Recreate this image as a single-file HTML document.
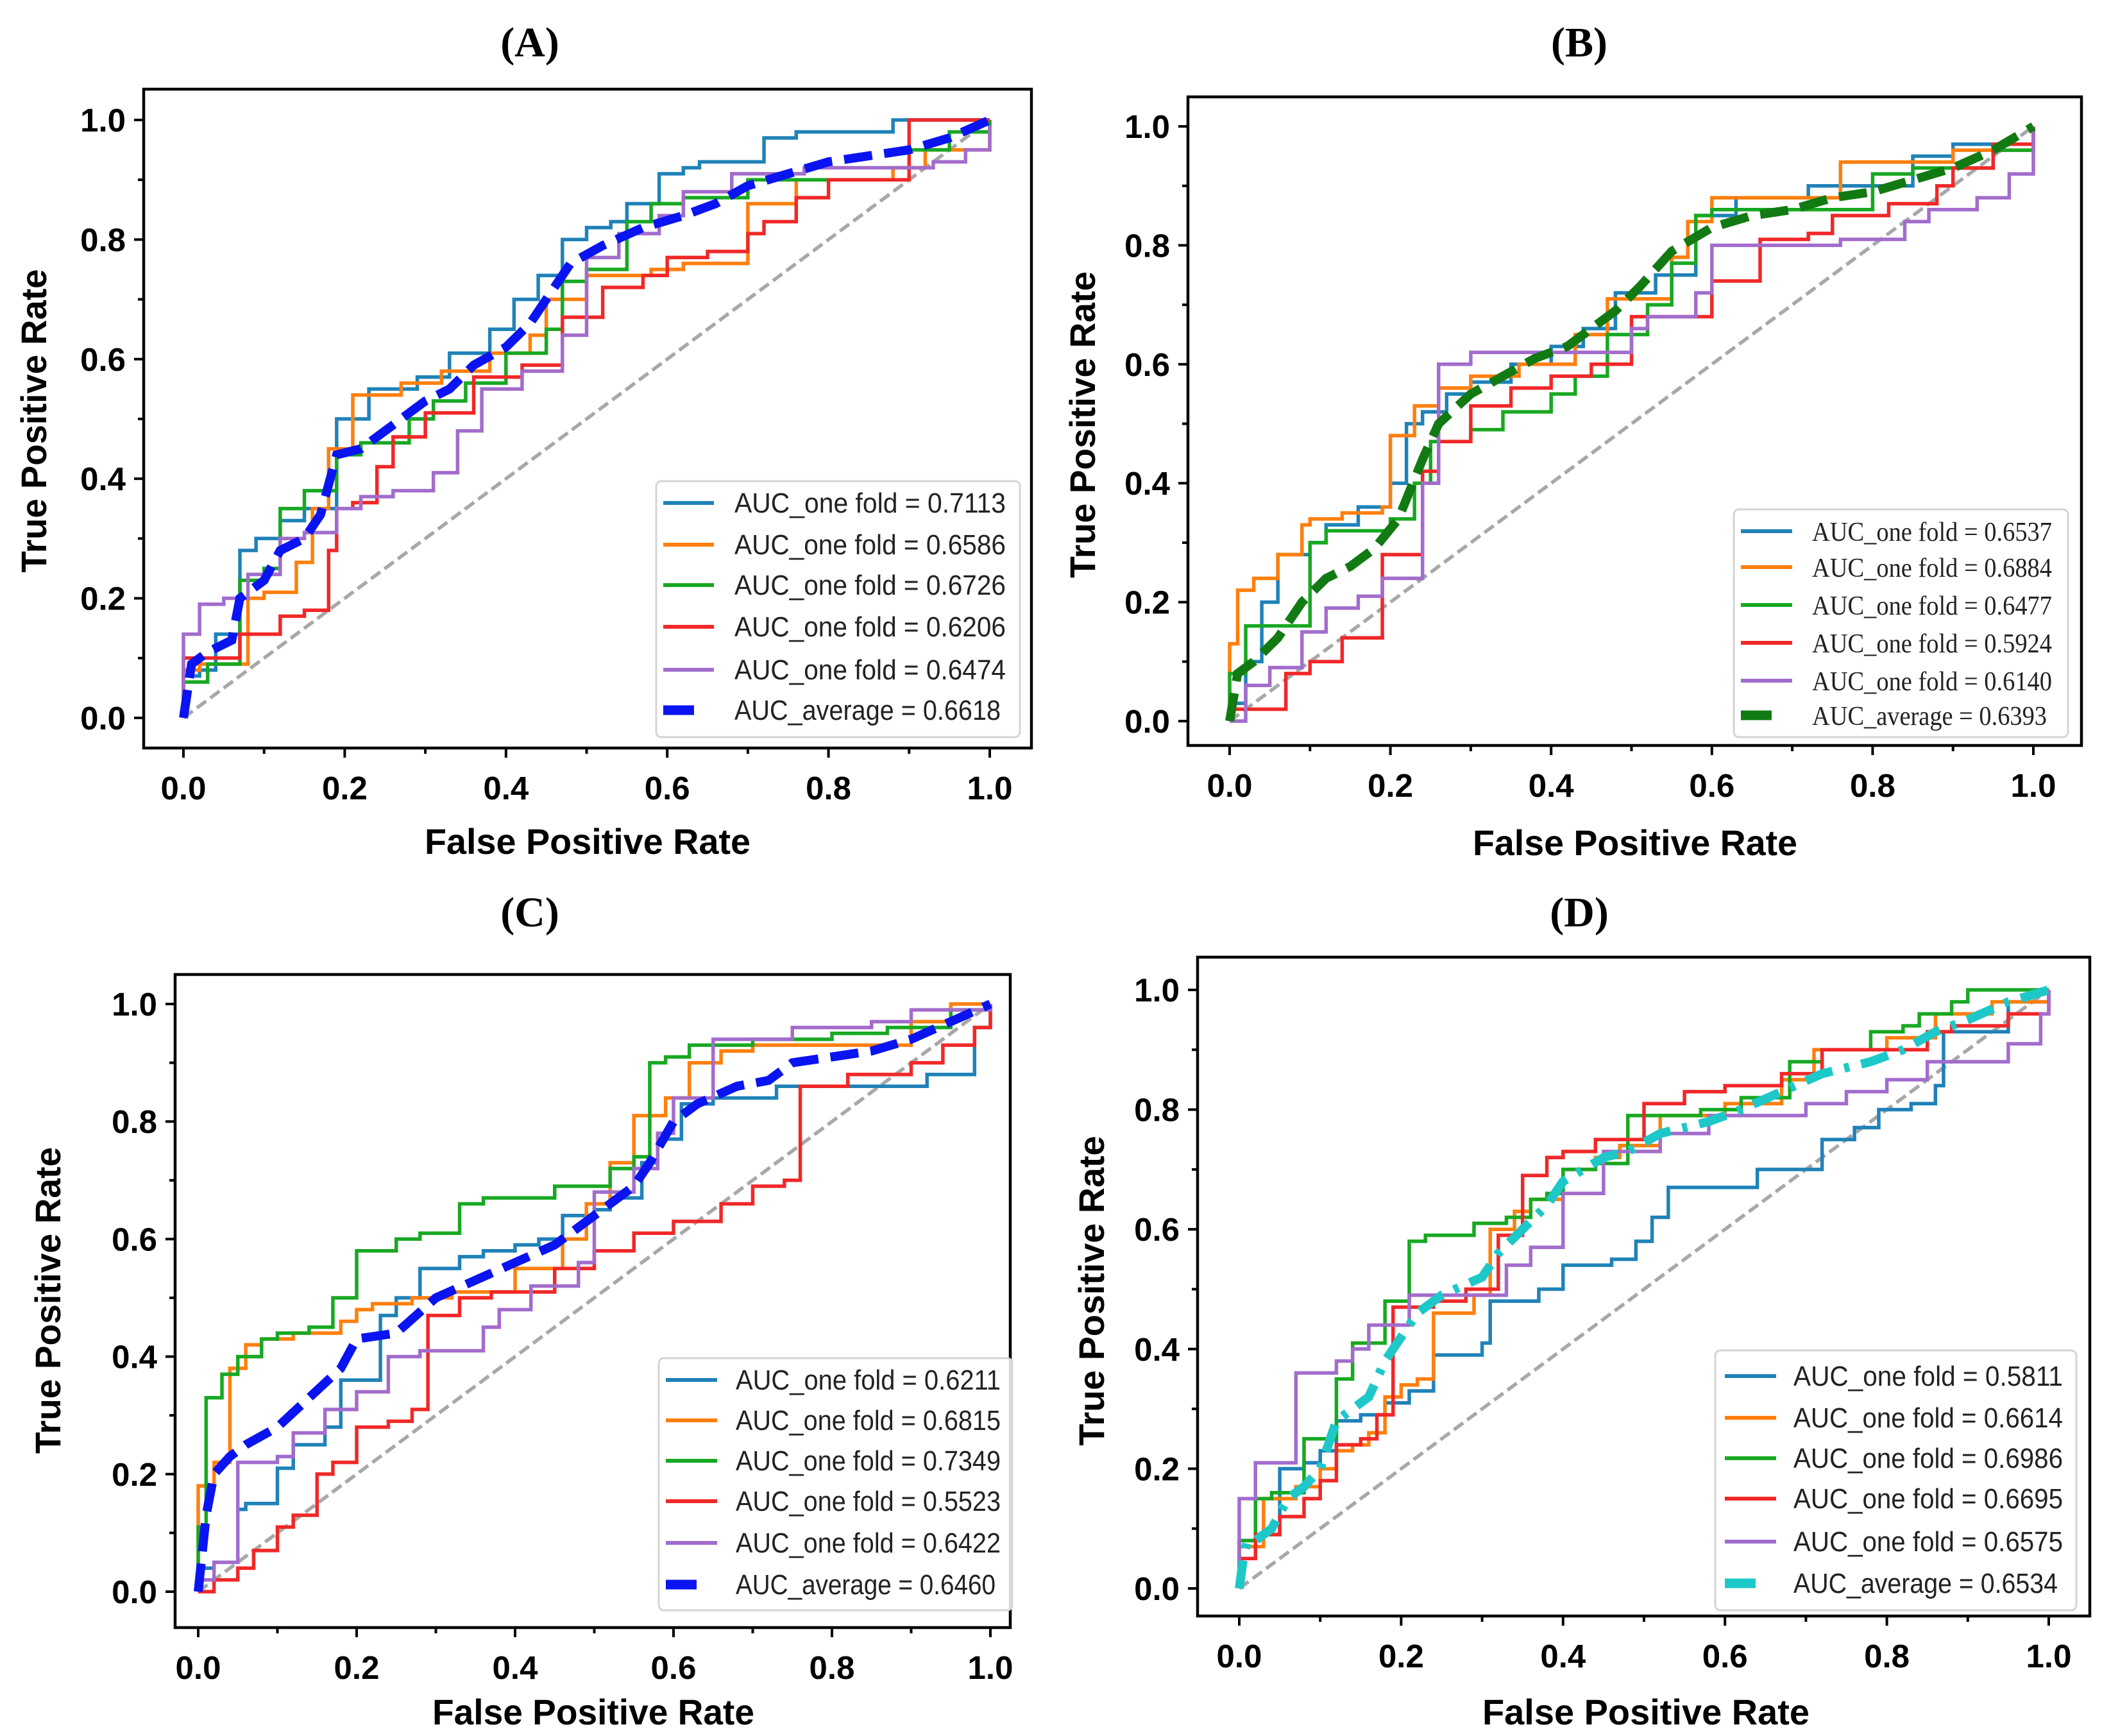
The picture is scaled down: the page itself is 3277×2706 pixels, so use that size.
<!DOCTYPE html>
<html><head><meta charset="utf-8">
<style>
html,body{margin:0;padding:0;background:#fff;}
svg{display:block;}
</style></head>
<body>
<svg id="fig" xmlns="http://www.w3.org/2000/svg" width="3277" height="2706" viewBox="0 0 3277 2706">
<rect width="3277" height="2706" fill="#fff"/>
</svg>
<script>
// ---------- Data ----------
const ticks = [0, 0.2, 0.4, 0.6, 0.8, 1.0];
const tickLabels = ["0.0","0.2","0.4","0.6","0.8","1.0"];

// Panel A
const A_names = ["AUC_one fold = 0.7113","AUC_one fold = 0.6586","AUC_one fold = 0.6726","AUC_one fold = 0.6206","AUC_one fold = 0.6474","AUC_average = 0.6618"];
const A1_fpr = [0,0.02,0.04,0.07,0.09,0.12,0.15,0.19,0.23,0.29,0.33,0.38,0.41,0.44,0.47,0.5,0.53,0.55,0.59,0.62,0.64,0.72,0.76,0.88,1];
const A1_tpr = [0.07,0.08,0.14,0.28,0.30,0.33,0.35,0.50,0.55,0.57,0.61,0.65,0.70,0.74,0.80,0.82,0.83,0.86,0.91,0.92,0.93,0.97,0.98,1.0,1.0];
const A2_fpr = [0,0.02,0.08,0.1,0.14,0.16,0.18,0.21,0.27,0.32,0.38,0.43,0.45,0.5,0.58,0.62,0.7,0.76,0.88,0.92,1];
const A2_tpr = [0.08,0.09,0.2,0.21,0.26,0.35,0.45,0.54,0.56,0.58,0.61,0.64,0.70,0.74,0.75,0.76,0.86,0.90,0.92,0.95,1];
const A3_fpr = [0,0.03,0.07,0.1,0.12,0.15,0.19,0.22,0.28,0.31,0.35,0.4,0.45,0.47,0.5,0.55,0.58,0.62,0.7,0.9,0.95,1];
const A3_tpr = [0.06,0.09,0.23,0.25,0.35,0.38,0.44,0.46,0.50,0.53,0.56,0.61,0.65,0.73,0.75,0.83,0.86,0.87,0.90,0.95,0.98,1];
const A4_fpr = [0,0.07,0.12,0.15,0.18,0.19,0.21,0.24,0.26,0.3,0.36,0.42,0.47,0.52,0.57,0.6,0.65,0.7,0.72,0.76,0.8,0.9,1];
const A4_tpr = [0.10,0.14,0.17,0.18,0.28,0.35,0.36,0.42,0.47,0.51,0.57,0.59,0.67,0.72,0.74,0.77,0.78,0.81,0.83,0.87,0.90,1.0,1.0];
const A5_fpr = [0,0.02,0.05,0.08,0.12,0.15,0.19,0.22,0.26,0.31,0.34,0.37,0.42,0.47,0.5,0.54,0.59,0.62,0.68,0.77,0.93,0.97,1];
const A5_tpr = [0.14,0.19,0.20,0.24,0.30,0.31,0.35,0.37,0.38,0.41,0.48,0.55,0.58,0.64,0.77,0.81,0.84,0.88,0.91,0.92,0.93,0.95,0.99];
const A6_fpr = [0,0.01,0.03,0.06,0.07,0.1,0.12,0.15,0.17,0.19,0.22,0.26,0.3,0.33,0.36,0.4,0.43,0.46,0.48,0.52,0.57,0.62,0.66,0.7,0.75,0.8,0.85,0.9,0.95,1];
const A6_tpr = [0.0,0.09,0.11,0.13,0.2,0.23,0.28,0.3,0.34,0.44,0.45,0.49,0.53,0.55,0.59,0.62,0.66,0.72,0.76,0.79,0.82,0.84,0.86,0.89,0.91,0.93,0.94,0.95,0.97,1.0];

// Panel B
const B_names = ["AUC_one fold = 0.6537","AUC_one fold = 0.6884","AUC_one fold = 0.6477","AUC_one fold = 0.5924","AUC_one fold = 0.6140","AUC_average = 0.6393"];
const B1_fpr = [0,0.02,0.04,0.06,0.1,0.12,0.16,0.2,0.22,0.24,0.27,0.3,0.35,0.4,0.44,0.48,0.53,0.58,0.63,0.72,0.85,0.9,1];
const B1_tpr = [0.03,0.1,0.2,0.28,0.3,0.33,0.36,0.4,0.5,0.52,0.55,0.57,0.6,0.63,0.66,0.72,0.75,0.85,0.88,0.9,0.95,0.97,0.99];
const B2_fpr = [0,0.01,0.03,0.06,0.09,0.1,0.14,0.19,0.2,0.23,0.26,0.3,0.36,0.43,0.47,0.55,0.57,0.6,0.76,0.9,1];
const B2_tpr = [0.13,0.22,0.24,0.28,0.33,0.34,0.35,0.36,0.48,0.53,0.56,0.58,0.6,0.65,0.71,0.78,0.84,0.88,0.94,0.96,1];
const B3_fpr = [0,0.02,0.1,0.12,0.2,0.23,0.25,0.3,0.34,0.4,0.43,0.47,0.52,0.55,0.58,0.6,0.8,0.85,0.95,1];
const B3_tpr = [0.08,0.16,0.3,0.32,0.34,0.4,0.47,0.49,0.52,0.55,0.58,0.65,0.7,0.77,0.85,0.86,0.92,0.93,0.96,1];
const B4_fpr = [0,0.07,0.1,0.14,0.19,0.24,0.26,0.3,0.35,0.4,0.45,0.5,0.6,0.66,0.72,0.75,0.82,0.88,0.9,0.95,1];
const B4_tpr = [0.02,0.08,0.1,0.14,0.28,0.42,0.47,0.53,0.56,0.58,0.6,0.68,0.74,0.81,0.82,0.85,0.87,0.9,0.93,0.97,1];
const B5_fpr = [0,0.02,0.05,0.09,0.12,0.16,0.19,0.24,0.26,0.3,0.5,0.52,0.58,0.6,0.76,0.84,0.87,0.93,0.97,1];
const B5_tpr = [0,0.06,0.09,0.15,0.19,0.21,0.24,0.4,0.6,0.62,0.66,0.68,0.72,0.8,0.81,0.84,0.86,0.88,0.92,1];
const B6_fpr = [0,0.01,0.03,0.06,0.09,0.12,0.15,0.18,0.21,0.24,0.26,0.3,0.34,0.38,0.42,0.45,0.48,0.51,0.55,0.6,0.65,0.7,0.75,0.8,0.85,0.9,0.95,1];
const B6_tpr = [0.0,0.08,0.1,0.14,0.2,0.24,0.26,0.29,0.34,0.44,0.5,0.55,0.58,0.61,0.63,0.66,0.69,0.73,0.79,0.83,0.85,0.86,0.88,0.89,0.91,0.93,0.96,1];

// Panel C
const C_names = ["AUC_one fold = 0.6211","AUC_one fold = 0.6815","AUC_one fold = 0.7349","AUC_one fold = 0.5523","AUC_one fold = 0.6422","AUC_average = 0.6460"];
const C1_fpr = [0,0.02,0.05,0.06,0.1,0.12,0.16,0.18,0.23,0.25,0.28,0.33,0.36,0.4,0.43,0.46,0.5,0.52,0.56,0.58,0.61,0.65,0.73,0.92,0.98,1];
const C1_tpr = [0.04,0.05,0.14,0.15,0.21,0.25,0.28,0.36,0.47,0.5,0.55,0.57,0.58,0.59,0.6,0.64,0.65,0.67,0.73,0.77,0.83,0.84,0.86,0.88,0.96,1];
const C2_fpr = [0,0.02,0.04,0.06,0.08,0.12,0.18,0.2,0.22,0.27,0.32,0.4,0.46,0.49,0.52,0.55,0.59,0.62,0.66,0.7,0.9,0.95,1];
const C2_tpr = [0.18,0.22,0.38,0.42,0.43,0.44,0.46,0.48,0.49,0.5,0.51,0.55,0.6,0.66,0.73,0.81,0.84,0.9,0.92,0.93,0.97,1,1];
const C3_fpr = [0,0.01,0.03,0.05,0.08,0.1,0.14,0.17,0.2,0.25,0.28,0.33,0.36,0.45,0.52,0.55,0.57,0.59,0.62,0.7,0.8,0.87,0.95,1];
const C3_tpr = [0.11,0.33,0.37,0.4,0.43,0.44,0.45,0.5,0.58,0.6,0.61,0.66,0.67,0.69,0.72,0.74,0.9,0.91,0.93,0.94,0.95,0.96,0.99,1];
const C4_fpr = [0,0.02,0.05,0.07,0.1,0.12,0.15,0.17,0.2,0.24,0.27,0.29,0.33,0.37,0.45,0.5,0.55,0.6,0.66,0.7,0.74,0.76,0.82,0.9,0.94,0.98,1];
const C4_tpr = [0,0.02,0.04,0.07,0.11,0.13,0.2,0.22,0.28,0.29,0.31,0.47,0.5,0.51,0.55,0.58,0.61,0.63,0.66,0.69,0.7,0.86,0.88,0.9,0.93,0.96,1];
const C5_fpr = [0,0.02,0.05,0.1,0.12,0.16,0.2,0.24,0.28,0.36,0.38,0.42,0.48,0.5,0.55,0.58,0.6,0.65,0.75,0.85,0.9,1];
const C5_tpr = [0.02,0.05,0.22,0.23,0.27,0.31,0.34,0.4,0.41,0.45,0.48,0.52,0.56,0.68,0.72,0.78,0.84,0.94,0.96,0.97,0.99,1];
const C6_fpr = [0,0.01,0.02,0.04,0.06,0.1,0.14,0.18,0.2,0.25,0.3,0.35,0.4,0.45,0.48,0.52,0.55,0.57,0.6,0.63,0.68,0.72,0.75,0.8,0.85,0.9,0.95,1];
const C6_tpr = [0.0,0.13,0.2,0.23,0.25,0.28,0.33,0.38,0.43,0.44,0.5,0.53,0.56,0.59,0.62,0.66,0.69,0.73,0.8,0.83,0.86,0.87,0.9,0.91,0.92,0.94,0.97,1];

// Panel D
const D_names = ["AUC_one fold = 0.5811","AUC_one fold = 0.6614","AUC_one fold = 0.6986","AUC_one fold = 0.6695","AUC_one fold = 0.6575","AUC_average = 0.6534"];
const D1_fpr = [0,0.02,0.05,0.08,0.1,0.12,0.15,0.18,0.21,0.24,0.3,0.31,0.37,0.4,0.46,0.49,0.51,0.53,0.64,0.72,0.76,0.79,0.83,0.86,0.87,0.95,1];
const D1_tpr = [0.08,0.09,0.2,0.21,0.23,0.28,0.29,0.31,0.33,0.39,0.41,0.48,0.5,0.54,0.55,0.58,0.62,0.67,0.7,0.75,0.77,0.8,0.81,0.84,0.93,0.98,1];
const D2_fpr = [0,0.03,0.07,0.1,0.12,0.14,0.16,0.18,0.2,0.22,0.24,0.29,0.31,0.34,0.36,0.4,0.44,0.47,0.52,0.6,0.67,0.71,0.8,0.86,0.93,1];
const D2_tpr = [0.07,0.15,0.17,0.2,0.23,0.24,0.26,0.32,0.34,0.35,0.46,0.49,0.6,0.63,0.65,0.7,0.72,0.74,0.79,0.81,0.85,0.9,0.92,0.96,0.98,1];
const D3_fpr = [0,0.02,0.04,0.08,0.12,0.14,0.18,0.21,0.23,0.29,0.33,0.36,0.38,0.4,0.44,0.48,0.57,0.62,0.68,0.72,0.78,0.82,0.84,0.88,0.9,1];
const D3_tpr = [0.08,0.15,0.16,0.25,0.35,0.41,0.48,0.58,0.59,0.61,0.62,0.65,0.66,0.7,0.71,0.79,0.8,0.82,0.88,0.9,0.93,0.94,0.96,0.98,1,1];
const D4_fpr = [0,0.02,0.05,0.08,0.1,0.12,0.15,0.17,0.19,0.24,0.28,0.32,0.35,0.38,0.4,0.44,0.5,0.55,0.6,0.67,0.72,0.85,0.88,0.95,1];
const D4_tpr = [0.05,0.09,0.12,0.15,0.18,0.24,0.25,0.29,0.47,0.48,0.5,0.59,0.69,0.72,0.73,0.75,0.81,0.83,0.84,0.86,0.9,0.93,0.94,0.96,1];
const D5_fpr = [0,0.02,0.07,0.12,0.14,0.16,0.21,0.33,0.36,0.4,0.45,0.52,0.58,0.7,0.75,0.8,0.85,0.95,0.99,1];
const D5_tpr = [0.15,0.21,0.36,0.38,0.4,0.44,0.49,0.54,0.57,0.66,0.73,0.76,0.79,0.81,0.83,0.85,0.88,0.91,0.96,1];
const D6_fpr = [0,0.005,0.01,0.02,0.04,0.06,0.08,0.1,0.12,0.14,0.16,0.18,0.2,0.22,0.25,0.3,0.32,0.35,0.38,0.4,0.45,0.48,0.52,0.58,0.62,0.67,0.72,0.78,0.82,0.86,0.9,0.95,1];
const D6_tpr = [0.0,0.05,0.08,0.08,0.1,0.15,0.17,0.2,0.28,0.3,0.32,0.38,0.42,0.46,0.49,0.52,0.56,0.6,0.64,0.68,0.72,0.73,0.76,0.78,0.8,0.83,0.86,0.88,0.9,0.93,0.95,0.98,1];

// ---------- Rendering ----------
const NS = "http://www.w3.org/2000/svg";
const svg = document.getElementById("fig");
const foldColors = ["#1f82b8","#ff7f0e","#18a822","#f02828","#a26ccc"];

function mk(tag, attrs, parent){
  const e = document.createElementNS(NS, tag);
  for (const k in attrs) e.setAttribute(k, attrs[k]);
  (parent||svg).appendChild(e);
  return e;
}

const panels = [
  {id:"a", title:"(A)", tx:826, ty:88, L:224, T:139, R:1608, B:1166, x0:286, x1:1543, y0:1119, y1:187,
   xl:[916,1331,508], yl:[52,656,473],
   series:[[A1_fpr,A1_tpr],[A2_fpr,A2_tpr],[A3_fpr,A3_tpr],[A4_fpr,A4_tpr],[A5_fpr,A5_tpr],[A6_fpr,A6_tpr]], names:A_names,
   avgColor:"#0a14f0", avgDash:"44 19", leg:{L:1023,T:750,R:1590,B:1149, rows:[784,849,912,977,1044,1107], lx0:1034, lx1:1113, tx:1145, tl:423, serif:false}},
  {id:"b", title:"(B)", tx:2462, ty:88, L:1852, T:151, R:3245, B:1162, x0:1917, x1:3170, y0:1124, y1:197,
   xl:[2549,1333,506], yl:[1687,662,478],
   series:[[B1_fpr,B1_tpr],[B2_fpr,B2_tpr],[B3_fpr,B3_tpr],[B4_fpr,B4_tpr],[B5_fpr,B5_tpr],[B6_fpr,B6_tpr]], names:B_names,
   avgColor:"#127a12", avgDash:"44 19", leg:{L:2703,T:794,R:3224,B:1149, rows:[828,884,943,1002,1061,1115], lx0:2714, lx1:2794, tx:2825, tl:374, serif:true}},
  {id:"c", title:"(C)", tx:826, ty:1444, L:273, T:1519, R:1575, B:2537, x0:309, x1:1544, y0:2481, y1:1565,
   xl:[925,2688,502], yl:[74,2027,478],
   series:[[C1_fpr,C1_tpr],[C2_fpr,C2_tpr],[C3_fpr,C3_tpr],[C4_fpr,C4_tpr],[C5_fpr,C5_tpr],[C6_fpr,C6_tpr]], names:C_names,
   avgColor:"#0a14f0", avgDash:"44 19", leg:{L:1027,T:2117,R:1578,B:2510, rows:[2151,2214,2277,2340,2405,2470], lx0:1038, lx1:1118, tx:1147, tl:413, serif:false}},
  {id:"d", title:"(D)", tx:2462, ty:1444, L:1867, T:1492, R:3258, B:2519, x0:1932, x1:3194, y0:2476, y1:1543,
   xl:[2566,2688,510], yl:[1701,2012,483],
   series:[[D1_fpr,D1_tpr],[D2_fpr,D2_tpr],[D3_fpr,D3_tpr],[D4_fpr,D4_tpr],[D5_fpr,D5_tpr],[D6_fpr,D6_tpr]], names:D_names,
   avgColor:"#1ec8c8", avgDash:"44 19 8 19", leg:{L:2674,T:2105,R:3237,B:2510, rows:[2145,2210,2273,2336,2403,2468], lx0:2689, lx1:2769, tx:2796, tl:420, serif:false}}
];

panels.forEach(p => {
  const g = mk("g", {});
  
  
  const sx = v => p.x0 + v*(p.x1-p.x0);
  const sy = v => p.y0 + v*(p.y1-p.y0);

  const t = mk("text", {x:p.tx, y:p.ty, "text-anchor":"middle", "font-family":"Liberation Serif, serif", "font-weight":"bold", "font-size":66, fill:"#000"}, g);
  t.textContent = p.title;
  
  

  const diag = mk("line", {x1:sx(0), y1:sy(0), x2:sx(1), y2:sy(1), stroke:"#a8a8a8", "stroke-width":5.5, "stroke-dasharray":"18 8"}, g);
  
  

  p.series.forEach((s, i) => {
    const f = s[0], tp = s[1];
    let d = "M" + sx(f[0]) + " " + sy(0) + " L" + sx(f[0]) + " " + sy(tp[0]);
    if (i < 5) {
      for (let k = 1; k < f.length; k++) d += " L" + sx(f[k]) + " " + sy(tp[k-1]) + " L" + sx(f[k]) + " " + sy(tp[k]);
      const path = mk("path", {d:d, fill:"none", stroke:foldColors[i], "stroke-width":5.5, "stroke-linejoin":"miter"}, g);
      
      
    } else {
      d = "M" + sx(f[0]) + " " + sy(tp[0]);
      for (let k = 1; k < f.length; k++) d += " L" + sx(f[k]) + " " + sy(tp[k]);
      const path = mk("path", {d:d, fill:"none", stroke:p.avgColor, "stroke-width":14, "stroke-dasharray":p.avgDash}, g);
      
      
    }
  });

  const frame = mk("rect", {x:p.L, y:p.T, width:p.R-p.L, height:p.B-p.T, fill:"none", stroke:"#000", "stroke-width":4.5}, g);
  
  

  for (let k = 0; k <= 10; k++) {
    const v = k/10, major = (k % 2 === 0), len = major ? 15 : 9;
    mk("line", {x1:sx(v), y1:p.B, x2:sx(v), y2:p.B+len, stroke:"#000", "stroke-width":4}, g);
    mk("line", {x1:p.L, y1:sy(v), x2:p.L-len, y2:sy(v), stroke:"#000", "stroke-width":4}, g);
  }
  ticks.forEach((v, k) => {
    const xt = mk("text", {x:sx(v), y:p.B+80, "text-anchor":"middle", "font-family":"Liberation Sans, sans-serif", "font-weight":"bold", "font-size":51}, g);
    xt.textContent = tickLabels[k];
    
    
    const yt = mk("text", {x:p.L-28, y:sy(v)+18, "text-anchor":"end", "font-family":"Liberation Sans, sans-serif", "font-weight":"bold", "font-size":51}, g);
    yt.textContent = tickLabels[k];
    
    
  });

  const xl = mk("text", {x:p.xl[0], y:p.xl[1], "text-anchor":"middle", "font-family":"Liberation Sans, sans-serif", "font-weight":"bold", "font-size":56, textLength:p.xl[2], lengthAdjust:"spacingAndGlyphs"}, g);
  xl.textContent = "False Positive Rate";
  
  
  const yl = mk("text", {x:0, y:0, "text-anchor":"middle", "font-family":"Liberation Sans, sans-serif", "font-weight":"bold", "font-size":56, textLength:p.yl[2], lengthAdjust:"spacingAndGlyphs", transform:"translate(" + (p.yl[0]+20) + "," + p.yl[1] + ") rotate(-90)"}, g);
  yl.textContent = "True Positive Rate";
  
  

  const lg = mk("g", {}, g);
  
  
  mk("rect", {x:p.leg.L, y:p.leg.T, width:p.leg.R-p.leg.L, height:p.leg.B-p.leg.T, rx:8, fill:"#fff", "fill-opacity":0.85, stroke:"#d4d4d4", "stroke-width":3}, lg);
  p.names.forEach((n, i) => {
    const y = p.leg.rows[i];
    const isAvg = i === 5;
    const ln = mk("line", {x1:p.leg.lx0, y1:y, x2:isAvg ? p.leg.lx0+48 : p.leg.lx1, y2:y, stroke:isAvg ? p.avgColor : foldColors[i], "stroke-width":isAvg ? 15 : 6}, lg);
    
    
    const tl = isAvg ? p.leg.tl - 8 : p.leg.tl;
    const tx = mk("text", {x:p.leg.tx, y:y+15, "font-family":p.leg.serif ? "Liberation Serif, serif" : "Liberation Sans, sans-serif", "font-size":p.leg.serif ? 42 : 44, fill:"#222", textLength:tl, lengthAdjust:"spacingAndGlyphs"}, lg);
    tx.textContent = n;
    
    
  });
});
</script>
</body></html>
